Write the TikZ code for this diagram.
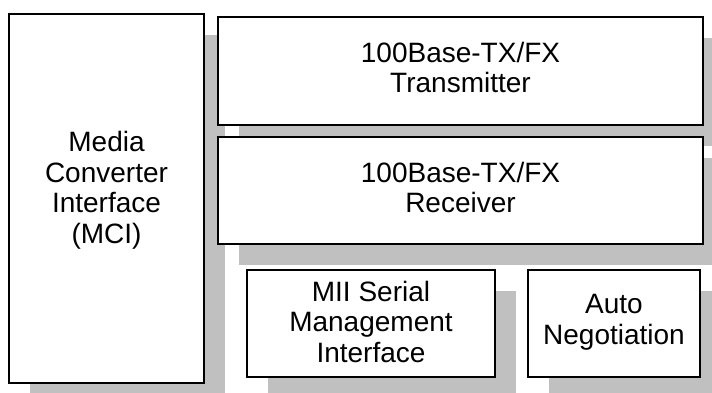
\documentclass[tikz,border=0pt]{standalone}
\usepackage{fontspec}
\setmainfont{Liberation Sans}
\usetikzlibrary{shadows,positioning}
\definecolor{ink}{HTML}{000000}
\definecolor{shade}{HTML}{C0C0C0}
\tikzset{block/.style={draw=ink,fill=white,line width=1.1pt,drop shadow={shadow xshift=21pt,shadow yshift=-21pt,fill=shade,opacity=1}}, blocktext/.style={font=\fontsize{28}{30.5}\selectfont,align=center,inner sep=0pt,text=ink}}

\begin{document}
\begin{tikzpicture}[x=1pt,y=-1pt]
\useasboundingbox (0,0) rectangle (712,392);
\clip (0,0) rectangle (712,392);
% boxes
\node[block,minimum width=195pt,minimum height=369pt] (mci) at (106.5,198.5) {};
\node[block,minimum width=485pt,minimum height=108pt] (tx) at (460.5,71) {};
\node[block,minimum width=485pt,minimum height=107pt] (rx) at (460.5,190.5) {};
\node[block,minimum width=248pt,minimum height=107pt] (mii) at (371,323.5) {};
\node[block,minimum width=172pt,minimum height=107pt] (an) at (614,323.5) {};
% texts
\node[blocktext] (mcitext) at ([yshift=8.3pt]mci.center) {Media\\Converter\\Interface\\(MCI)};
\node[blocktext] (txtext) at ([yshift=3.5pt]tx.center) {100Base-TX/FX\\Transmitter};
\node[blocktext] (rxtext) at ([yshift=3pt]rx.center) {100Base-TX/FX\\Receiver};
\node[blocktext] (miitext) at ([yshift=1.8pt]mii.center) {MII Serial\\Management\\Interface};
\node[blocktext] (antext) at ([yshift=1.4pt]an.center) {Auto\\Negotiation};
\end{tikzpicture}
\end{document}
